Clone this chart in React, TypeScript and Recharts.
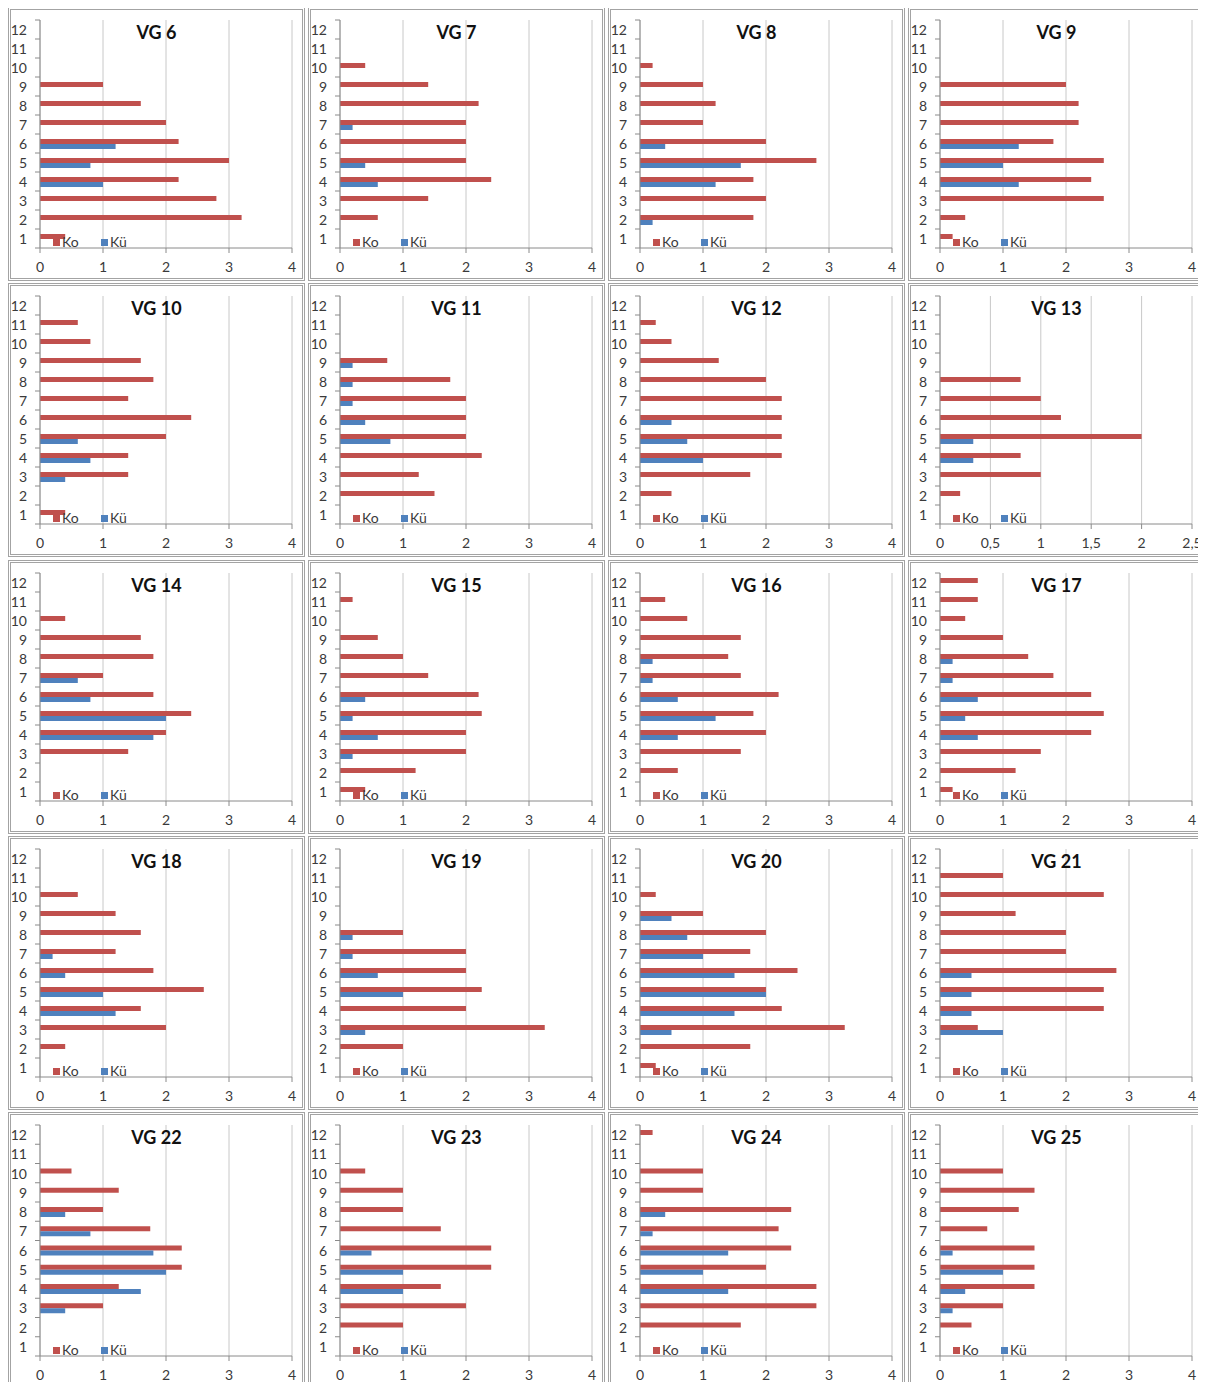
import { BarChart, Bar, XAxis, YAxis, CartesianGrid, Legend } from 'recharts';

// categories 1..12 (bottom to top in the picture)
const CATEGORIES = ['1', '2', '3', '4', '5', '6', '7', '8', '9', '10', '11', '12'];
const X_TICKS = [0, 1, 2, 3, 4];
const X_TICKS_SMALL = [0, 0.5, 1, 1.5, 2, 2.5];

// values per category, index 0 = category 1
const VG6_KO = [0.4, 3.2, 2.8, 2.2, 3.0, 2.2, 2.0, 1.6, 1.0, 0, 0, 0];
const VG6_KU = [0, 0, 0, 1.0, 0.8, 1.2, 0, 0, 0, 0, 0, 0];
const VG7_KO = [0, 0.6, 1.4, 2.4, 2.0, 2.0, 2.0, 2.2, 1.4, 0.4, 0, 0];
const VG7_KU = [0, 0, 0, 0.6, 0.4, 0, 0.2, 0, 0, 0, 0, 0];
const VG8_KO = [0, 1.8, 2.0, 1.8, 2.8, 2.0, 1.0, 1.2, 1.0, 0.2, 0, 0];
const VG8_KU = [0, 0.2, 0, 1.2, 1.6, 0.4, 0, 0, 0, 0, 0, 0];
const VG9_KO = [0.2, 0.4, 2.6, 2.4, 2.6, 1.8, 2.2, 2.2, 2.0, 0, 0, 0];
const VG9_KU = [0, 0, 0, 1.25, 1.0, 1.25, 0, 0, 0, 0, 0, 0];
const VG10_KO = [0.4, 0, 1.4, 1.4, 2.0, 2.4, 1.4, 1.8, 1.6, 0.8, 0.6, 0];
const VG10_KU = [0, 0, 0.4, 0.8, 0.6, 0, 0, 0, 0, 0, 0, 0];
const VG11_KO = [0, 1.5, 1.25, 2.25, 2.0, 2.0, 2.0, 1.75, 0.75, 0, 0, 0];
const VG11_KU = [0, 0, 0, 0, 0.8, 0.4, 0.2, 0.2, 0.2, 0, 0, 0];
const VG12_KO = [0, 0.5, 1.75, 2.25, 2.25, 2.25, 2.25, 2.0, 1.25, 0.5, 0.25, 0];
const VG12_KU = [0, 0, 0, 1.0, 0.75, 0.5, 0, 0, 0, 0, 0, 0];
const VG13_KO = [0, 0.2, 1.0, 0.8, 2.0, 1.2, 1.0, 0.8, 0, 0, 0, 0];
const VG13_KU = [0, 0, 0, 0.33, 0.33, 0, 0, 0, 0, 0, 0, 0];
const VG14_KO = [0, 0, 1.4, 2.0, 2.4, 1.8, 1.0, 1.8, 1.6, 0.4, 0, 0];
const VG14_KU = [0, 0, 0, 1.8, 2.0, 0.8, 0.6, 0, 0, 0, 0, 0];
const VG15_KO = [0.4, 1.2, 2.0, 2.0, 2.25, 2.2, 1.4, 1.0, 0.6, 0, 0.2, 0];
const VG15_KU = [0, 0, 0.2, 0.6, 0.2, 0.4, 0, 0, 0, 0, 0, 0];
const VG16_KO = [0, 0.6, 1.6, 2.0, 1.8, 2.2, 1.6, 1.4, 1.6, 0.75, 0.4, 0];
const VG16_KU = [0, 0, 0, 0.6, 1.2, 0.6, 0.2, 0.2, 0, 0, 0, 0];
const VG17_KO = [0.2, 1.2, 1.6, 2.4, 2.6, 2.4, 1.8, 1.4, 1.0, 0.4, 0.6, 0.6];
const VG17_KU = [0, 0, 0, 0.6, 0.4, 0.6, 0.2, 0.2, 0, 0, 0, 0];
const VG18_KO = [0, 0.4, 2.0, 1.6, 2.6, 1.8, 1.2, 1.6, 1.2, 0.6, 0, 0];
const VG18_KU = [0, 0, 0, 1.2, 1.0, 0.4, 0.2, 0, 0, 0, 0, 0];
const VG19_KO = [0, 1.0, 3.25, 2.0, 2.25, 2.0, 2.0, 1.0, 0, 0, 0, 0];
const VG19_KU = [0, 0, 0.4, 0, 1.0, 0.6, 0.2, 0.2, 0, 0, 0, 0];
const VG20_KO = [0.25, 1.75, 3.25, 2.25, 2.0, 2.5, 1.75, 2.0, 1.0, 0.25, 0, 0];
const VG20_KU = [0, 0, 0.5, 1.5, 2.0, 1.5, 1.0, 0.75, 0.5, 0, 0, 0];
const VG21_KO = [0, 0, 0.6, 2.6, 2.6, 2.8, 2.0, 2.0, 1.2, 2.6, 1.0, 0];
const VG21_KU = [0, 0, 1.0, 0.5, 0.5, 0.5, 0, 0, 0, 0, 0, 0];
const VG22_KO = [0, 0, 1.0, 1.25, 2.25, 2.25, 1.75, 1.0, 1.25, 0.5, 0, 0];
const VG22_KU = [0, 0, 0.4, 1.6, 2.0, 1.8, 0.8, 0.4, 0, 0, 0, 0];
const VG23_KO = [0, 1.0, 2.0, 1.6, 2.4, 2.4, 1.6, 1.0, 1.0, 0.4, 0, 0];
const VG23_KU = [0, 0, 0, 1.0, 1.0, 0.5, 0, 0, 0, 0, 0, 0];
const VG24_KO = [0, 1.6, 2.8, 2.8, 2.0, 2.4, 2.2, 2.4, 1.0, 1.0, 0, 0.2];
const VG24_KU = [0, 0, 0, 1.4, 1.0, 1.4, 0.2, 0.4, 0, 0, 0, 0];
const VG25_KO = [0, 0.5, 1.0, 1.5, 1.5, 1.5, 0.75, 1.25, 1.5, 1.0, 0, 0];
const VG25_KU = [0, 0, 0.2, 0.4, 1.0, 0.2, 0, 0, 0, 0, 0, 0];

const PANELS = [
  { title: 'VG 6', ko: VG6_KO, ku: VG6_KU, ticks: X_TICKS },
  { title: 'VG 7', ko: VG7_KO, ku: VG7_KU, ticks: X_TICKS },
  { title: 'VG 8', ko: VG8_KO, ku: VG8_KU, ticks: X_TICKS },
  { title: 'VG 9', ko: VG9_KO, ku: VG9_KU, ticks: X_TICKS },
  { title: 'VG 10', ko: VG10_KO, ku: VG10_KU, ticks: X_TICKS },
  { title: 'VG 11', ko: VG11_KO, ku: VG11_KU, ticks: X_TICKS },
  { title: 'VG 12', ko: VG12_KO, ku: VG12_KU, ticks: X_TICKS },
  { title: 'VG 13', ko: VG13_KO, ku: VG13_KU, ticks: X_TICKS_SMALL },
  { title: 'VG 14', ko: VG14_KO, ku: VG14_KU, ticks: X_TICKS },
  { title: 'VG 15', ko: VG15_KO, ku: VG15_KU, ticks: X_TICKS },
  { title: 'VG 16', ko: VG16_KO, ku: VG16_KU, ticks: X_TICKS },
  { title: 'VG 17', ko: VG17_KO, ku: VG17_KU, ticks: X_TICKS },
  { title: 'VG 18', ko: VG18_KO, ku: VG18_KU, ticks: X_TICKS },
  { title: 'VG 19', ko: VG19_KO, ku: VG19_KU, ticks: X_TICKS },
  { title: 'VG 20', ko: VG20_KO, ku: VG20_KU, ticks: X_TICKS },
  { title: 'VG 21', ko: VG21_KO, ku: VG21_KU, ticks: X_TICKS },
  { title: 'VG 22', ko: VG22_KO, ku: VG22_KU, ticks: X_TICKS },
  { title: 'VG 23', ko: VG23_KO, ku: VG23_KU, ticks: X_TICKS },
  { title: 'VG 24', ko: VG24_KO, ku: VG24_KU, ticks: X_TICKS },
  { title: 'VG 25', ko: VG25_KO, ku: VG25_KU, ticks: X_TICKS },
];

const KO_COLOR = '#C0504D';
const KU_COLOR = '#4F81BD';
const AXIS_COLOR = '#8a8a8a';
const GRID_COLOR = '#c8c8c8';
const TEXT_COLOR = '#3a3a3a';
const FONT = "Lato, 'Open Sans', sans-serif";

const PANEL_W = 297;
const BORDER = 3;
const CHART_W = PANEL_W - 2 * BORDER;
const MARGIN = { top: 10, right: 10, left: 0, bottom: 0 };
const Y_AXIS_W = 29;

// y tick: label at band centre, tick marks on band boundaries like Excel
const CategoryTick = (props: any) => {
  const { x, y, payload, band } = props;
  const axisX = x + 13;
  return (
    <g>
      <line x1={axisX - 5} x2={axisX} y1={y - band / 2} y2={y - band / 2} stroke={AXIS_COLOR} />
      {payload.value === '1' && (
        <line x1={axisX - 5} x2={axisX} y1={y + band / 2} y2={y + band / 2} stroke={AXIS_COLOR} />
      )}
      <text x={x} y={y} textAnchor="end" dominantBaseline="central" fill={TEXT_COLOR} fontSize={14} fontFamily={FONT}>
        {payload.value}
      </text>
    </g>
  );
};

const LegendBox = () => (
  <div style={{ display: 'flex', alignItems: 'center', fontFamily: FONT, fontSize: 14, color: TEXT_COLOR, lineHeight: '16px' }}>
    <div style={{ display: 'flex', alignItems: 'center', width: 48 }}>
      <span style={{ display: 'block', flex: 'none', width: 7, height: 7, background: KO_COLOR, marginRight: 2 }} />
      <span>Ko</span>
    </div>
    <div style={{ display: 'flex', alignItems: 'center' }}>
      <span style={{ display: 'block', flex: 'none', width: 7, height: 7, background: KU_COLOR, marginRight: 2 }} />
      <span>Kü</span>
    </div>
  </div>
);

type PanelProps = { title: string; ko: number[]; ku: number[]; ticks: number[]; panelH: number; xAxisH: number };

function Panel({ title, ko, ku, ticks, panelH, xAxisH }: PanelProps) {
  // top row of the chart is category 12
  const data = CATEGORIES.map((cat, i) => ({ cat, Ko: ko[i], Kü: ku[i] })).reverse();
  const chartH = panelH - 2 * BORDER;
  const plotBottom = chartH - MARGIN.bottom - xAxisH;
  const band = (plotBottom - MARGIN.top) / CATEGORIES.length;
  return (
    <div
      style={{
        position: 'relative',
        boxSizing: 'border-box',
        width: PANEL_W,
        height: panelH,
        border: `${BORDER}px double #a3a3a3`,
        background: '#fff',
      }}
    >
      <BarChart
        width={CHART_W}
        height={chartH}
        data={data}
        layout="vertical"
        margin={MARGIN}
        barGap={0}
        style={{ fontFamily: FONT }}
      >
        <CartesianGrid horizontal={false} stroke={GRID_COLOR} />
        <XAxis
          type="number"
          domain={[0, ticks[ticks.length - 1]]}
          ticks={ticks}
          interval={0}
          height={xAxisH}
          tickSize={5}
          tickMargin={9}
          stroke={AXIS_COLOR}
          tick={{ fill: TEXT_COLOR, fontSize: 14, fontFamily: FONT }}
          tickFormatter={(v: number) => String(v).replace('.', ',')}
        />
        <YAxis
          type="category"
          dataKey="cat"
          width={Y_AXIS_W}
          interval={0}
          tickSize={5}
          tickMargin={8}
          tickLine={false}
          stroke={AXIS_COLOR}
          tick={<CategoryTick band={band} />}
        />
        <Legend
          layout="vertical"
          align="center"
          verticalAlign="middle"
          wrapperStyle={{ left: 42, top: plotBottom - 14, width: 120, height: 16 }}
          content={() => <LegendBox />}
        />
        <Bar dataKey="Ko" fill={KO_COLOR} barSize={5} isAnimationActive={false} />
        <Bar dataKey="Kü" fill={KU_COLOR} barSize={5} isAnimationActive={false} />
      </BarChart>
      <div
        style={{
          position: 'absolute',
          left: 0,
          top: 13,
          width: '100%',
          textAlign: 'center',
          fontFamily: FONT,
          fontWeight: 700,
          fontSize: 18,
          lineHeight: '18px',
          color: '#111',
          pointerEvents: 'none',
        }}
      >
        {title}
      </div>
    </div>
  );
}

export default function App() {
  return (
    <div style={{ position: 'relative', width: 1206, height: 1390, margin: -8, overflow: 'hidden', background: '#fff' }}>
      {PANELS.map((p, i) => {
        const col = i % 4;
        const row = Math.floor(i / 4);
        const last = row === 4;
        return (
          <div key={p.title} style={{ position: 'absolute', left: 8 + col * 300, top: 7 + Math.round(row * 276.25) }}>
            <Panel {...p} panelH={last ? 278 : 274} xAxisH={last ? 31 : 30} />
          </div>
        );
      })}
    </div>
  );
}
